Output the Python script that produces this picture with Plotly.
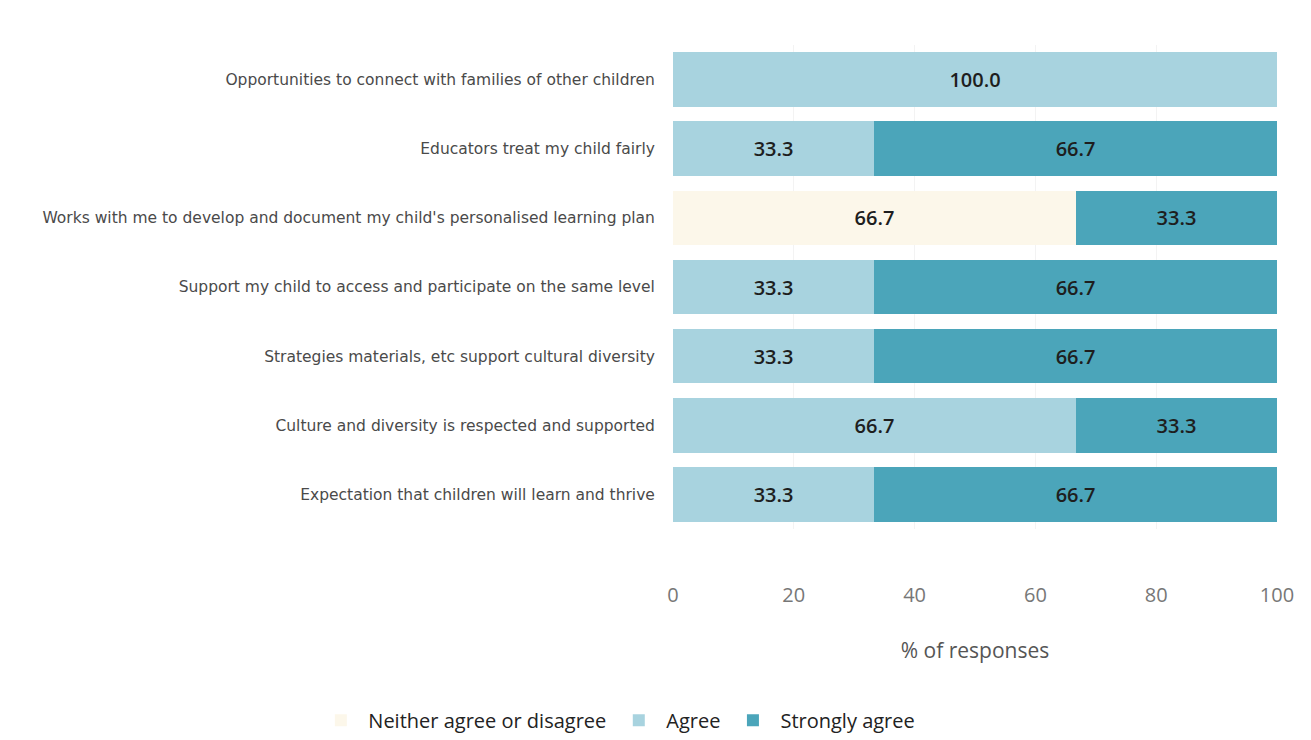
import plotly.graph_objects as go

categories = [
    "Opportunities to connect with families of other children",
    "Educators treat my child fairly",
    "Works with me to develop and document my child's personalised learning plan",
    "Support my child to access and participate on the same level",
    "Strategies materials, etc support cultural diversity",
    "Culture and diversity is respected and supported",
    "Expectation that children will learn and thrive",
]
neither = [0, 0, 66.7, 0, 0, 0, 0]
agree = [100.0, 33.3, 0, 33.3, 33.3, 66.7, 33.3]
strongly = [0, 66.7, 33.3, 66.7, 66.7, 33.3, 66.7]

series = [
    ("Neither agree or disagree", neither, "#fcf7ea"),
    ("Agree", agree, "#a8d3df"),
    ("Strongly agree", strongly, "#4ba5ba"),
]

fig = go.Figure()
for name, vals, color in series:
    fig.add_trace(go.Bar(
        name=name, y=categories, x=vals, orientation="h",
        marker=dict(color=color, line=dict(width=0)),
        text=[f"{v:.1f}" if v > 0 else "" for v in vals],
        textposition="inside", insidetextanchor="middle",
        textfont=dict(family="Open Sans", size=20, color="#1e1e1e", weight=600),
        hoverinfo="x+y+name",
    ))

fig.update_layout(
    barmode="stack",
    bargap=0.21,
    width=1311, height=740,
    margin=dict(l=665, r=42, t=37, b=219, autoexpand=False),
    paper_bgcolor="white", plot_bgcolor="white",
    font=dict(family="Open Sans", color="#333"),
    showlegend=True,
    legend=dict(orientation="h", x=-0.093, xanchor="center", y=-0.395, yanchor="middle",
                font=dict(size=20, color="#222"), traceorder="normal", itemwidth=45),
    uniformtext=dict(minsize=10, mode="show"),
)
fig.update_xaxes(
    range=[0, 100], tickvals=[0, 20, 40, 60, 80, 100],
    showgrid=True, gridcolor="#f3f3f3", zeroline=False,
    ticks="outside", ticklen=48, tickcolor="rgba(0,0,0,0)",
    tickfont=dict(size=20, color="#777", family="Open Sans"),
    title=dict(text="% of responses", font=dict(size=21, color="#555"), standoff=36),
    showline=False,
)
fig.update_yaxes(
    autorange="reversed",
    ticks="outside", ticklen=14, tickcolor="rgba(0,0,0,0)",
    tickfont=dict(size=15.5, color="#4a4a4a", family="DejaVu Sans"),
    showgrid=False, showline=False,
)

fig.write_html("out.html")
